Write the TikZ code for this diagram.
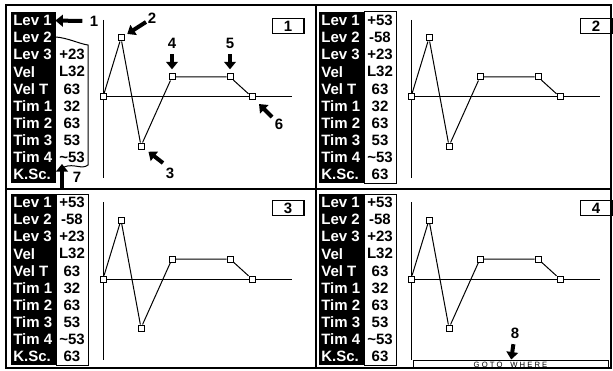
\documentclass[tikz,border=0pt]{standalone}
\usepackage{fontspec}
\setmainfont{Liberation Sans}
\usetikzlibrary{arrows.meta}

\begin{document}
\begin{tikzpicture}[x=0.6pt, y=-0.6pt,
  font=\bfseries\fontsize{9}{10}\selectfont,
  pt/.style={rectangle, draw, fill=white, inner sep=0pt, minimum size=3.6pt, line width=0.6pt},
  tag/.style={rectangle, draw, line width=0.8pt, minimum width=19pt, minimum height=9pt, inner sep=0pt},
  callout/.style={line width=2.4pt, -{Triangle[width=7pt,length=4.5pt]}},
  lab/.style={anchor=west, text=white, inner sep=0pt},
  val/.style={inner sep=0pt}]
  \useasboundingbox (0,0) rectangle (613,371);

  % Outer frame and the two dividers
  \draw[line width=0.8pt] (6,5) rectangle (611,368);
  \draw[line width=0.8pt] (316,5) -- (316,368);
  \draw[line width=0.8pt] (6,189) -- (611,189);

  % The four screens
  \foreach \p/\dx/\dy in {1/0/0, 2/308/0, 3/0/182, 4/308/182} {
    \begin{scope}[shift={(\dx,\dy)}]
      % parameter names, white on black
      \fill (11,12) rectangle (56,183);
      \foreach \name [count=\i from 0] in {Lev 1, Lev 2, Lev 3, Vel, Vel T, Tim 1, Tim 2, Tim 3, Tim 4, K.Sc.}
        \node[lab] (lab-\p-\i) at (13,{20.5+17.1*\i}) {\name};

      % values
      \ifnum\p=1
        \draw[line width=0.6pt] (56,37) .. controls (68,38) and (80,44) .. (88,45)
          -- (88,165) .. controls (82,170) and (74,163) .. (64,167);
        \foreach \v [count=\i from 2] in {+23, L32, 63, 32, 63, 53, \textasciitilde53}
          \node[val] (val-\p-\i) at (72,{20.5+17.1*\i}) {\v};
      \else
        \draw[line width=0.6pt] (56,12) rectangle (88,183);
        \foreach \v [count=\i from 0] in {+53, -58, +23, L32, 63, 32, 63, 53, \textasciitilde53, 63}
          \node[val] (val-\p-\i) at (72,{20.5+17.1*\i}) {\v};
      \fi

      % axes
      \draw[line width=0.6pt] (103,20) -- (103,178);
      \draw[line width=0.6pt] (103,97) -- (292,97);

      % envelope points
      \node[pt] (p0-\p) at (103,97) {};
      \node[pt] (p1-\p) at (121,38) {};
      \node[pt] (p2-\p) at (141,146) {};
      \node[pt] (p3-\p) at (172,77) {};
      \node[pt] (p4-\p) at (230,77) {};
      \node[pt] (p5-\p) at (252,97) {};
      \draw[line width=0.6pt] (p0-\p) -- (p1-\p) -- (p2-\p) -- (p3-\p) -- (p4-\p) -- (p5-\p);

      % screen number
      \node[tag] (tag-\p) at (288,26) {\p};
    \end{scope}
  }

  % Callouts on screen 1
  \node (n1) at (94,21) {1};
  \draw[callout, shorten <=1pt, shorten >=2pt] (n1.west) -- (lab-1-0.east);

  \node (n2) at (152,18) {2};
  \coordinate (a2) at (146,22);
  \draw[callout, shorten >=2pt] (a2) -- (p1-1);

  \node (n3) at (170,173) {3};
  \coordinate (a3) at (163,163);
  \draw[callout, shorten >=3pt] (a3) -- (p2-1);

  \node (n4) at (172,43) {4};
  \draw[callout, shorten >=2.5pt] (n4) -- (p3-1);

  \node (n5) at (230,43) {5};
  \draw[callout, shorten >=2.5pt] (n5) -- (p4-1);

  \node (n6) at (279,124) {6};
  \coordinate (a6) at (272,117);
  \draw[callout, shorten >=3pt] (a6) -- (p5-1);

  \node (n7) at (77,177) {7};
  \coordinate (a7) at (62,188);
  \coordinate (b7) at (62,164);
  \draw[callout] (a7) -- (b7);

  % Goto box on screen 4
  \node[draw, line width=0.6pt, minimum width=117pt, minimum height=4.4pt, inner sep=0pt,
        font=\fontsize{4.6}{5}\selectfont] (goto) at (510.5,364.5) {G O T O\quad W H E R E};
  \node (n8) at (515,333) {8};
  \draw[callout, shorten >=0.5pt] (n8) -- (goto);
\end{tikzpicture}
\end{document}
